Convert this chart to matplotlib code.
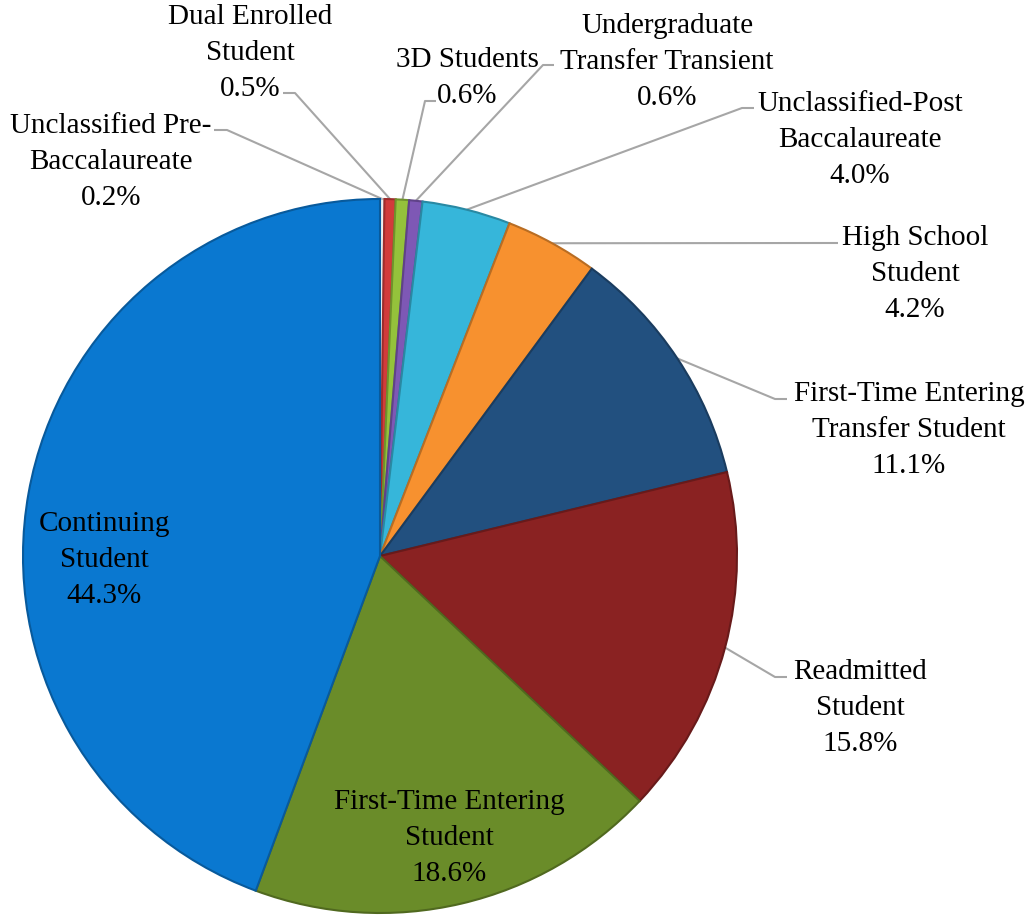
import numpy as np
import matplotlib.pyplot as plt
import matplotlib.colors as mcolors

# Data (clockwise from 12 o'clock)
categories = [
    "Unclassified Pre-\nBaccalaureate",
    "Dual Enrolled\nStudent",
    "3D Students",
    "Undergraduate\nTransfer Transient",
    "Unclassified-Post\nBaccalaureate",
    "High School\nStudent",
    "First-Time Entering\nTransfer Student",
    "Readmitted\nStudent",
    "First-Time Entering\nStudent",
    "Continuing\nStudent",
]
shares = [0.2, 0.5, 0.6, 0.6, 4.0, 4.2, 11.1, 15.8, 18.6, 44.3]
colors = ["#EFEFEF", "#D23B3B", "#94C23B", "#7E58B5", "#36B6DA",
          "#F7912F", "#22507F", "#8A2222", "#6A8C29", "#0A78D0"]

W, H = 1035, 915
plt.rcParams["font.family"] = ["Liberation Serif", "DejaVu Serif"]

fig = plt.figure(figsize=(W / 100, H / 100), dpi=100)
ax = fig.add_axes([0, 0, 1, 1])

cx, cy, r = 380, H - 556, 357
wedges, _ = ax.pie(shares, colors=colors, startangle=90, counterclock=False,
                   radius=r, center=(cx, cy), frame=True,
                   wedgeprops=dict(linewidth=1.5))
for w, c in zip(wedges, colors):
    w.set_edgecolor(np.array(mcolors.to_rgb(c)) * 0.75)
wedges[0].set_edgecolor("#BBBBBB")
ax.set_xlim(0, W)
ax.set_ylim(0, H)
ax.set_aspect("equal")
ax.axis("off")

# label layout in image pixels: text centre, leader anchor at text, elbow x
layout = [
    ((111, 162), (214, 130), 227),
    ((250, 53), (283, 93), 295),
    ((467, 78), (436, 101), 425),
    ((667, 62), (554, 65), 543),
    ((860, 140), (754, 108), 742),
    ((915, 274), (838, 243), 826),
    ((909, 430), (787, 399), 775),
    ((860, 708), (787, 677), 775),
    ((449, 838), None, None),
    ((104, 560), None, None),
]

for w, name, val, (tc, anchor, ex) in zip(wedges, categories, shares, layout):
    ax.text(tc[0], H - tc[1], f"{name}\n{val:.1f}%", ha="center", va="center",
            fontsize=21, linespacing=1.52, color="black")
    if anchor is None:
        continue
    mid = np.deg2rad((w.theta1 + w.theta2) / 2)
    px, py = cx + r * np.cos(mid), cy + r * np.sin(mid)
    ay = H - anchor[1]
    ax.plot([px, ex, anchor[0]], [py, ay, ay], color="#A6A6A6", lw=1.5,
            solid_capstyle="butt", zorder=0.5)

fig.savefig("out.png", dpi=100)
